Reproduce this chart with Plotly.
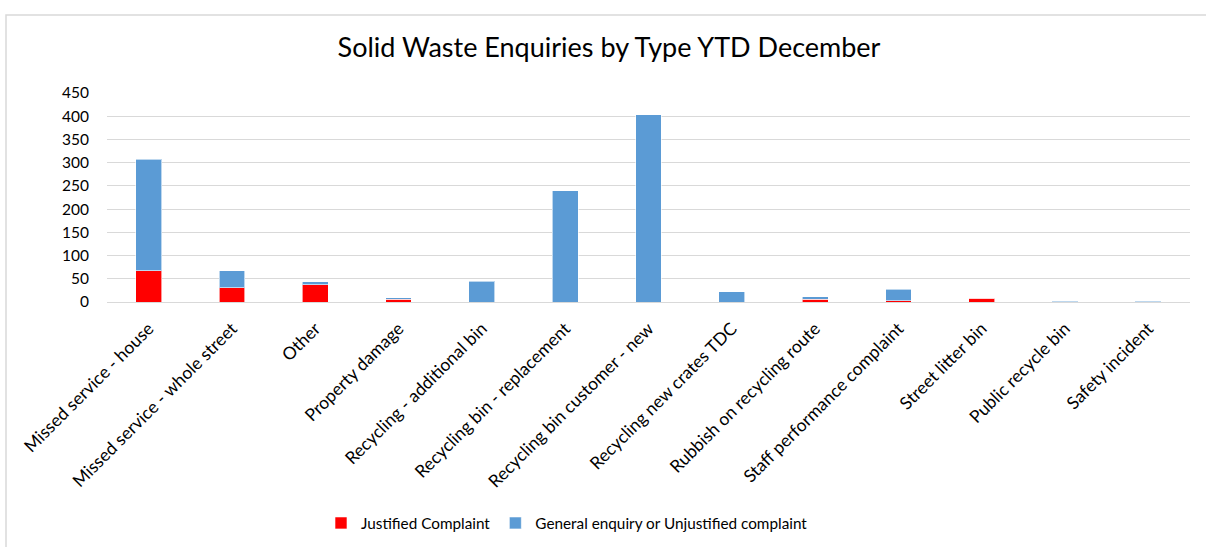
import plotly.graph_objects as go

categories = [
    "Missed service - house",
    "Missed service - whole street",
    "Other",
    "Property damage",
    "Recycling - additional bin",
    "Recycling bin - replacement",
    "Recycling bin customer - new",
    "Recycling new crates TDC",
    "Rubbish on recycling route",
    "Staff performance complaint",
    "Street litter bin",
    "Public recycle bin",
    "Safety incident",
]
justified = [67, 31, 37, 6, 0, 0, 0, 0, 6, 3, 8, 0, 0]
general = [240, 36, 7, 3, 45, 240, 403, 22, 5, 25, 0, 2, 2]

y_ticks = [0, 50, 100, 150, 200, 250, 300, 350, 400, 450]

FONT = "Lato, Open Sans, sans-serif"

fig = go.Figure()
fig.add_trace(go.Bar(
    x=categories, y=justified, name="Justified Complaint",
    marker=dict(color="#FF0000", line=dict(color="rgba(255,255,255,0.6)", width=1)),
))
fig.add_trace(go.Bar(
    x=categories, y=general, name="General enquiry or Unjustified complaint",
    marker=dict(color="#5B9BD5", line=dict(color="rgba(255,255,255,0.6)", width=1)),
))

L, R, T, B = 107, 16, 93, 245
W, H = 1206, 547
pw = W - L - R
ph = H - T - B

def px_x(p):
    return (p - L) / pw

def px_y(p):
    return (H - B - p) / ph

fig.update_layout(
    barmode="stack",
    bargap=0.69,
    width=W, height=H,
    margin=dict(l=L, r=R, t=T, b=B, autoexpand=False),
    paper_bgcolor="white",
    plot_bgcolor="white",
    font=dict(family=FONT, size=15, color="#000000"),
    title=dict(
        text="Solid Waste Enquiries by Type YTD December",
        x=0.505, xanchor="center",
        y=1 - 48 / H, yanchor="middle", yref="container",
        font=dict(family=FONT, size=27, color="#000000"),
    ),
    xaxis=dict(
        tickangle=-45,
        showgrid=False,
        showline=False,
        ticks="",
        ticklabelstandoff=12,
        tickfont=dict(family=FONT, size=17.5, color="#000000"),
    ),
    yaxis=dict(
        range=[0, 450],
        tickvals=y_ticks,
        showgrid=True,
        gridcolor="#D9D9D9",
        gridwidth=1,
        zeroline=True,
        zerolinecolor="#D9D9D9",
        zerolinewidth=1,
        ticks="",
        ticklabelstandoff=17,
        tickfont=dict(family=FONT, size=15.5, color="#000000"),
    ),
    legend=dict(
        orientation="h",
        x=px_x(321), xanchor="left",
        y=px_y(523), yanchor="middle",
        font=dict(family=FONT, size=15.3, color="#000000"),
        itemwidth=30,
        traceorder="normal",
    ),
    showlegend=True,
    shapes=[dict(
        type="rect", xref="paper", yref="paper",
        x0=px_x(6), x1=px_x(1212), y0=px_y(555), y1=px_y(15),
        line=dict(color="#D9D9D9", width=1.5),
        fillcolor="rgba(0,0,0,0)", layer="below",
    )],
)

fig.write_html(
    "out.html",
    config={"displayModeBar": False},
    post_script="document.body.style.margin='0';document.body.style.padding='0';",
)
